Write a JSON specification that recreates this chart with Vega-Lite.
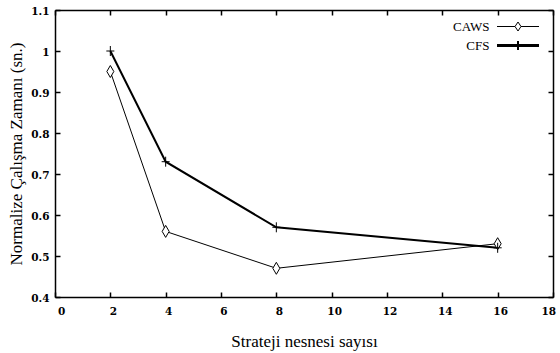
{
  "$schema": "https://vega.github.io/schema/vega-lite/v6.json",
  "width": 498,
  "height": 287,
  "autosize": "none",
  "padding": {"left": 55, "top": 10, "right": 7, "bottom": 56},
  "background": "white",
  "data": {
    "values": [
      {"n": 2, "t": 0.95, "series": "CAWS"},
      {"n": 4, "t": 0.56, "series": "CAWS"},
      {"n": 8, "t": 0.47, "series": "CAWS"},
      {"n": 16, "t": 0.53, "series": "CAWS"},
      {"n": 2, "t": 1.0, "series": "CFS"},
      {"n": 4, "t": 0.73, "series": "CFS"},
      {"n": 8, "t": 0.57, "series": "CFS"},
      {"n": 16, "t": 0.52, "series": "CFS"}
    ]
  },
  "config": {
    "view": {"stroke": null},
    "axis": {
      "grid": false,
      "domainColor": "black",
      "domainWidth": 1.5,
      "tickColor": "black",
      "tickWidth": 1.5,
      "tickSize": -5,
      "labelFont": "DejaVu Serif",
      "labelFontSize": 10.5,
      "labelFontWeight": "bold",
      "labelColor": "black",
      "titleFont": "Liberation Serif",
      "titleFontSize": 17,
      "titleFontWeight": "normal",
      "titleColor": "black"
    }
  },
  "resolve": {"axis": {"x": "independent", "y": "independent"}},
  "layer": [
    {
      "mark": {"type": "line"},
      "encoding": {
        "x": {
          "field": "n", "type": "quantitative",
          "scale": {"domain": [0, 18], "nice": false},
          "axis": {"orient": "bottom", "values": [0, 2, 4, 6, 8, 10, 12, 14, 16, 18], "labelPadding": 14, "labelOffset": 2.5, "title": "Strateji nesnesi sayısı", "titleY": 36, "titleBaseline": "top"}
        },
        "y": {
          "field": "t", "type": "quantitative",
          "scale": {"domain": [0.4, 1.1], "nice": false, "zero": false},
          "axis": {"orient": "left", "values": [0.4, 0.5, 0.6, 0.7, 0.8, 0.9, 1, 1.1], "format": "~g", "labelPadding": 11, "labelOffset": 1, "title": "Normalize Çalışma Zamanı (sn.)", "titleX": -30}
        },
        "color": {
          "field": "series", "type": "nominal",
          "scale": {"range": ["black", "black"]},
          "legend": {
            "orient": "none", "legendX": 456.5, "legendY": 10, "title": null,
            "symbolSize": 100, "labelAlign": "right", "labelOffset": -35,
            "labelFont": "Liberation Serif", "labelFontSize": 13, "labelFontWeight": "normal", "labelColor": "black",
            "rowPadding": 3, "padding": 0,
            "encode": {
              "symbols": {
                "update": {
                  "shape": {"signal": "datum.value == 'CAWS' ? 'M-4.2,0H-0.6M0.6,0H4.2M0,-0.9L0.6,0L0,0.9L-0.6,0Z' : 'M-4.2,-0.1H4.2M-4.2,0.1H4.2M0,-0.9V0.9'"},
                  "size": {"value": 100},
                  "strokeWidth": {"value": 1},
                  "stroke": {"value": "black"},
                  "fill": {"value": "white"},
                  "opacity": {"value": 1}
                }
              }
            }
          }
        },
        "strokeWidth": {
          "field": "series", "type": "nominal",
          "scale": {"range": [1, 2]},
          "legend": null
        }
      }
    },
    {
      "mark": {"type": "point", "fill": "white", "stroke": "black", "strokeWidth": 1, "opacity": 1, "size": 100},
      "encoding": {
        "x": {
          "field": "n", "type": "quantitative",
          "axis": {"orient": "top", "values": [0, 2, 4, 6, 8, 10, 12, 14, 16, 18], "labels": false, "title": null}
        },
        "y": {
          "field": "t", "type": "quantitative",
          "axis": {"orient": "right", "values": [0.4, 0.5, 0.6, 0.7, 0.8, 0.9, 1, 1.1], "labels": false, "title": null}
        },
        "shape": {
          "field": "series", "type": "nominal",
          "scale": {"range": ["M0,-1.2L0.7,0L0,1.2L-0.7,0Z", "M-0.8,0H0.8M0,-1V1"]},
          "legend": null
        }
      }
    }
  ]
}
